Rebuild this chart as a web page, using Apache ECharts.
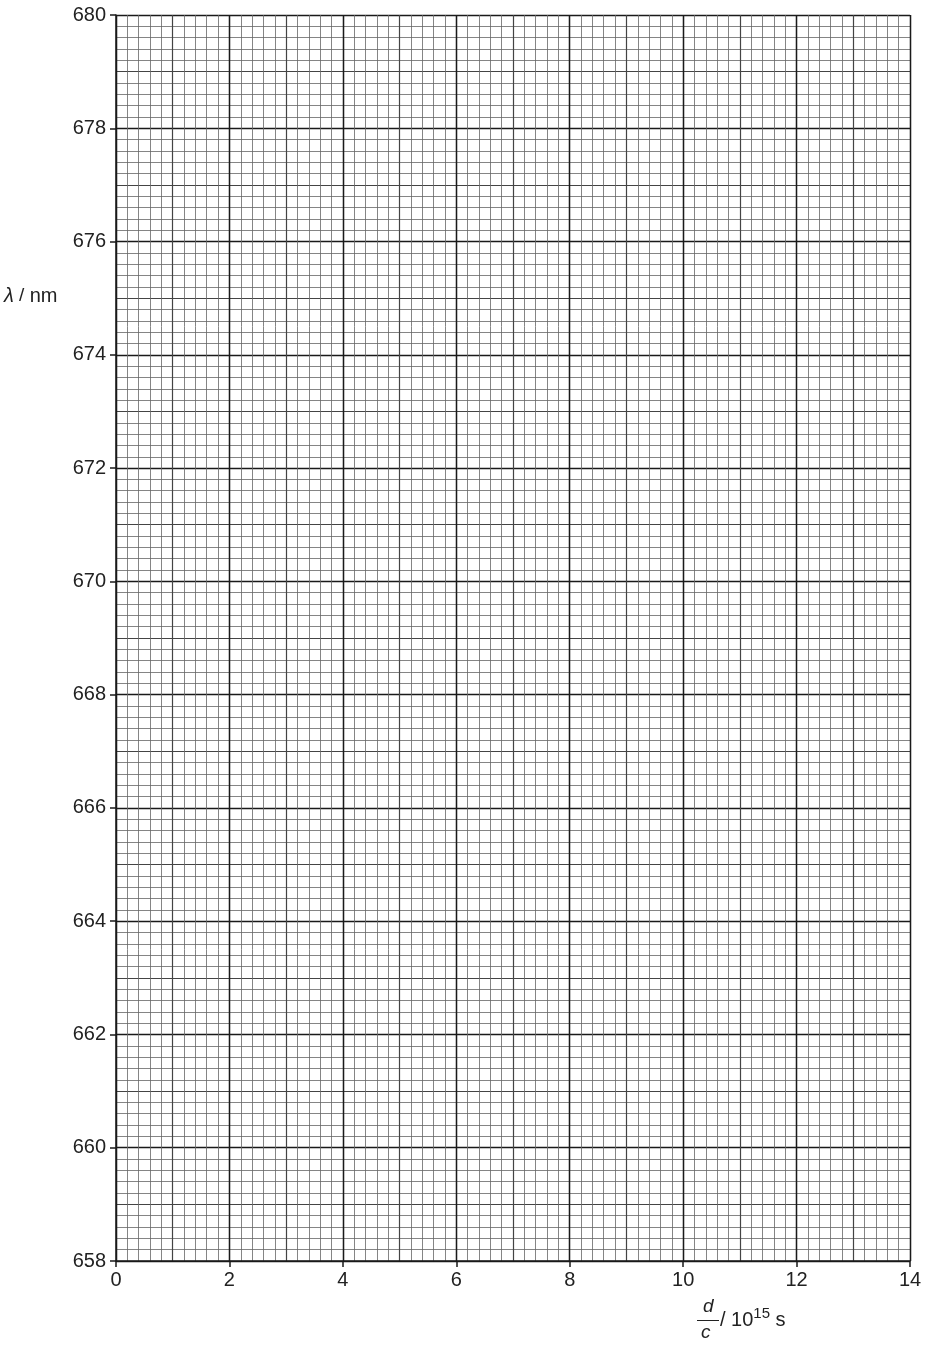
<!DOCTYPE html>
<html>
<head>
<meta charset="utf-8">
<script src="https://cdn.jsdelivr.net/npm/echarts@6/dist/echarts.min.js"></script>
<style>
html,body{margin:0;padding:0;background:#fff;}
#chart{width:930px;height:1348px;}
</style>
</head>
<body>
<div id="chart"></div>
<script>
// Axis ranges and tick labels
var xTicks = [0, 2, 4, 6, 8, 10, 12, 14];
var yTicks = [658, 660, 662, 664, 666, 668, 670, 672, 674, 676, 678, 680];
var xMajorStep = 2, xMidStep = 1, xFineStep = 0.2;
var yMajorStep = 2, yMidStep = 1, yFineStep = 0.2;
var points = []; // blank graph paper: no data plotted

var xMin = xTicks[0], xMax = xTicks[xTicks.length - 1];
var yMin = yTicks[0], yMax = yTicks[yTicks.length - 1];
var FONT = 'Liberation Sans, Arial, sans-serif';
var grid = {left: 116, right: 20, top: 15, bottom: 87};

function hiddenAxis(type, step, color, width) {
  return {
    type: 'value', min: type === 'x' ? xMin : yMin, max: type === 'x' ? xMax : yMax,
    interval: step, position: type === 'x' ? 'bottom' : 'left',
    axisLine: {show: false}, axisTick: {show: false}, axisLabel: {show: false},
    splitLine: {show: true, lineStyle: {color: color, width: width}}
  };
}

var chart = echarts.init(document.getElementById('chart'), null, {renderer: 'canvas'});
chart.setOption({
  backgroundColor: '#ffffff',
  animation: false,
  grid: grid,
  xAxis: [
    hiddenAxis('x', xFineStep, '#666666', 0.8),
    hiddenAxis('x', xMidStep, '#444444', 1.2),
    {
      type: 'value', min: xMin, max: xMax, interval: xMajorStep, position: 'bottom',
      axisLine: {show: true, onZero: false, lineStyle: {color: '#1a1a1a', width: 1.5}},
      axisTick: {show: true, inside: false, length: 6, lineStyle: {color: '#1a1a1a', width: 1.5}},
      axisLabel: {show: true, color: '#222', fontSize: 20, fontFamily: FONT, margin: 9,
        formatter: function (v) { return xTicks.indexOf(v) >= 0 ? String(v) : ''; }},
      splitLine: {show: true, lineStyle: {color: '#1a1a1a', width: 1.4}}
    }
  ],
  yAxis: [
    hiddenAxis('y', yFineStep, '#666666', 0.8),
    hiddenAxis('y', yMidStep, '#444444', 1.2),
    {
      type: 'value', min: yMin, max: yMax, interval: yMajorStep, position: 'left',
      axisLine: {show: true, onZero: false, lineStyle: {color: '#1a1a1a', width: 1.5}},
      axisTick: {show: true, inside: false, length: 6, lineStyle: {color: '#1a1a1a', width: 1.5}},
      axisLabel: {show: true, color: '#222', fontSize: 20, fontFamily: FONT, margin: 10,
        formatter: function (v) { return yTicks.indexOf(v) >= 0 ? String(v) : ''; }},
      splitLine: {show: true, lineStyle: {color: '#1a1a1a', width: 1.4}}
    }
  ],
  series: [{
    type: 'scatter', xAxisIndex: 2, yAxisIndex: 2, data: points, symbolSize: 6
  }],
  graphic: [
    {
      type: 'text', left: 4, top: 286,
      style: {
        text: '{l|λ}{s| / }{n|nm}',
        rich: {
          l: {fontSize: 20, fontFamily: FONT, fill: '#222', fontStyle: 'italic'},
          s: {fontSize: 19, fontFamily: FONT, fill: '#222'},
          n: {fontSize: 20, fontFamily: FONT, fill: '#222'}
        }
      }
    },
    {
      type: 'text', left: 703, top: 1297,
      style: {text: 'd', fontSize: 19, fontStyle: 'italic', fontFamily: FONT, fill: '#222'}
    },
    {
      type: 'rect', shape: {x: 697, y: 1320, width: 22, height: 1},
      style: {fill: '#222'}
    },
    {
      type: 'text', left: 701, top: 1323,
      style: {text: 'c', fontSize: 19, fontStyle: 'italic', fontFamily: FONT, fill: '#222'}
    },
    {
      type: 'text', left: 720, top: 1306,
      style: {
        text: '{t|/ 10}{sup|15}{t| s}',
        rich: {
          t: {fontSize: 20, fontFamily: FONT, fill: '#222', verticalAlign: 'bottom', lineHeight: 24},
          sup: {fontSize: 15, fontFamily: FONT, fill: '#222', verticalAlign: 'top', lineHeight: 24, padding: [0, 0, 8, 0]}
        }
      }
    }
  ]
});
</script>
</body>
</html>
